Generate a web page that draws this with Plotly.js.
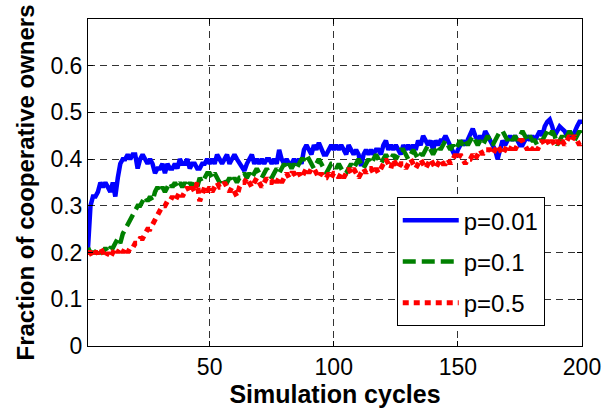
<!DOCTYPE html>
<html>
<head>
<meta charset="utf-8">
<script src="https://cdn.plot.ly/plotly-3.0.1.min.js"></script>
<style>html,body{margin:0;padding:0;background:#fff;}#chart{width:606px;height:411px;}</style>
</head>
<body>
<div id="chart"></div>
<script>
// Simulation cycles 1..200
const cycles = Array.from({length: 200}, (_, i) => i + 1);

const seriesNames = ["p=0.01", "p=0.1", "p=0.5"];

const p001 = [
0.21,0.30,0.32,0.32,0.33,0.35,0.34,0.35,0.34,0.33,
0.35,0.32,0.36,0.39,0.40,0.40,0.41,0.40,0.41,0.41,
0.38,0.40,0.41,0.40,0.39,0.40,0.39,0.37,0.38,0.38,
0.39,0.37,0.39,0.38,0.38,0.39,0.38,0.40,0.39,0.39,
0.40,0.38,0.39,0.39,0.38,0.38,0.39,0.39,0.40,0.39,
0.40,0.39,0.41,0.40,0.39,0.40,0.41,0.39,0.40,0.41,
0.40,0.39,0.38,0.375,0.39,0.40,0.41,0.39,0.40,0.39,
0.40,0.39,0.40,0.40,0.39,0.40,0.39,0.42,0.40,0.39,
0.40,0.39,0.39,0.40,0.39,0.40,0.39,0.42,0.43,0.42,
0.41,0.43,0.42,0.435,0.42,0.41,0.41,0.42,0.43,0.42,
0.43,0.42,0.43,0.42,0.41,0.43,0.42,0.41,0.42,0.41,
0.385,0.41,0.42,0.41,0.42,0.41,0.42,0.42,0.41,0.43,
0.44,0.42,0.43,0.42,0.43,0.42,0.41,0.43,0.42,0.43,
0.42,0.43,0.42,0.44,0.43,0.45,0.44,0.43,0.44,0.42,
0.44,0.43,0.44,0.44,0.45,0.44,0.43,0.42,0.405,0.42,
0.43,0.44,0.43,0.44,0.45,0.465,0.45,0.44,0.45,0.44,
0.46,0.45,0.44,0.43,0.42,0.40,0.42,0.44,0.43,0.44,
0.45,0.44,0.45,0.44,0.43,0.43,0.44,0.45,0.44,0.45,
0.44,0.45,0.46,0.45,0.47,0.48,0.485,0.47,0.45,0.46,
0.47,0.465,0.46,0.45,0.46,0.445,0.46,0.47,0.48,0.48
];

const p01 = [
0.21,0.20,0.20,0.20,0.21,0.20,0.20,0.21,0.20,0.21,
0.21,0.22,0.23,0.22,0.24,0.25,0.26,0.27,0.28,0.29,
0.30,0.30,0.31,0.32,0.31,0.32,0.31,0.33,0.34,0.33,
0.34,0.33,0.34,0.35,0.34,0.35,0.34,0.35,0.34,0.35,
0.34,0.35,0.34,0.35,0.34,0.36,0.35,0.36,0.37,0.37,
0.36,0.37,0.36,0.35,0.36,0.35,0.35,0.36,0.35,0.36,
0.35,0.36,0.36,0.37,0.36,0.37,0.36,0.37,0.38,0.37,
0.36,0.37,0.38,0.37,0.36,0.37,0.38,0.37,0.38,0.39,
0.38,0.39,0.38,0.39,0.38,0.39,0.40,0.40,0.41,0.40,
0.39,0.38,0.39,0.40,0.39,0.38,0.37,0.38,0.39,0.39,
0.38,0.39,0.38,0.37,0.37,0.38,0.39,0.38,0.39,0.40,
0.39,0.38,0.39,0.40,0.39,0.40,0.41,0.40,0.39,0.40,
0.41,0.40,0.40,0.41,0.40,0.41,0.42,0.42,0.41,0.40,
0.41,0.42,0.41,0.40,0.41,0.41,0.42,0.43,0.42,0.41,
0.42,0.43,0.42,0.43,0.44,0.43,0.42,0.43,0.42,0.43,
0.44,0.43,0.44,0.43,0.44,0.45,0.44,0.43,0.44,0.43,
0.44,0.45,0.44,0.43,0.44,0.45,0.46,0.46,0.45,0.44,
0.45,0.44,0.45,0.44,0.45,0.46,0.45,0.44,0.45,0.44,
0.44,0.43,0.44,0.44,0.45,0.46,0.45,0.46,0.45,0.43,
0.44,0.45,0.44,0.45,0.46,0.45,0.44,0.45,0.46,0.45
];

const p05 = [
0.20,0.20,0.19,0.20,0.20,0.21,0.20,0.19,0.20,0.19,
0.20,0.21,0.20,0.21,0.20,0.21,0.20,0.21,0.21,0.22,
0.22,0.23,0.23,0.24,0.25,0.25,0.26,0.27,0.28,0.29,
0.30,0.30,0.31,0.31,0.32,0.31,0.32,0.33,0.32,0.33,
0.34,0.33,0.34,0.33,0.35,0.31,0.33,0.34,0.33,0.34,
0.33,0.34,0.35,0.34,0.34,0.35,0.34,0.33,0.34,0.33,
0.32,0.34,0.35,0.35,0.36,0.35,0.34,0.35,0.36,0.35,
0.34,0.35,0.36,0.35,0.35,0.36,0.35,0.36,0.35,0.36,
0.37,0.36,0.37,0.37,0.36,0.37,0.36,0.37,0.38,0.37,
0.38,0.38,0.37,0.36,0.37,0.36,0.36,0.37,0.36,0.37,
0.37,0.36,0.37,0.36,0.37,0.38,0.37,0.38,0.37,0.36,
0.37,0.38,0.37,0.38,0.38,0.37,0.38,0.37,0.38,0.39,
0.40,0.39,0.38,0.40,0.39,0.38,0.39,0.39,0.38,0.39,
0.40,0.39,0.38,0.39,0.40,0.39,0.38,0.39,0.40,0.39,
0.38,0.39,0.40,0.39,0.39,0.40,0.39,0.40,0.41,0.40,
0.41,0.40,0.39,0.40,0.40,0.41,0.40,0.41,0.42,0.41,
0.42,0.42,0.42,0.41,0.42,0.43,0.42,0.41,0.42,0.43,
0.42,0.43,0.42,0.43,0.44,0.44,0.43,0.42,0.43,0.42,
0.43,0.42,0.43,0.44,0.43,0.44,0.43,0.44,0.43,0.44,
0.43,0.44,0.43,0.44,0.45,0.44,0.45,0.44,0.43,0.44
];

const xTickVals = [50, 100, 150, 200];
const xTickText = ["50", "100", "150", "200"];
const yTickVals = [0, 0.1, 0.2, 0.3, 0.4, 0.5, 0.6];
const yTickText = ["0", "0.1", "0.2", "0.3", "0.4", "0.5", "0.6"];

const FONT = "Arial, 'Liberation Sans', sans-serif";

const traces = [
  {x: cycles, y: p001, name: seriesNames[0], legendgroup: "a", type: "scatter", mode: "lines",
   line: {color: "#0000FF", width: 4.5}},
  {x: cycles, y: p01, name: seriesNames[1], legendgroup: "b", type: "scatter", mode: "lines",
   line: {color: "#008000", width: 4.5, dash: "13px,6px"}},
  {x: cycles, y: p05, name: seriesNames[2], legendgroup: "c", type: "scatter", mode: "lines",
   line: {color: "#FF0000", width: 5, dash: "6px,5px"}}
];

const axisCommon = {
  showline: true, linecolor: "#000", linewidth: 1, mirror: "ticks",
  ticks: "inside", ticklen: 5, tickcolor: "#000", tickwidth: 1,
  showgrid: true, gridcolor: "#333", gridwidth: 1, griddash: "7px,5px",
  zeroline: false, tickfont: {family: FONT, size: 23, color: "#000"}
};

const layout = {
  width: 606, height: 411,
  margin: {l: 88, r: 24, t: 19, b: 65},
  paper_bgcolor: "#fff", plot_bgcolor: "#fff",
  showlegend: true,
  legend: {
    x: 0.625, y: 0.455, xanchor: "left", yanchor: "top",
    bgcolor: "#fff", bordercolor: "#000", borderwidth: 1,
    font: {family: FONT, size: 24, color: "#000"},
    tracegroupgap: 7, traceorder: "grouped", itemwidth: 56
  },
  xaxis: Object.assign({}, axisCommon, {
    range: [1, 200], tickmode: "array", tickvals: xTickVals, ticktext: xTickText,
    title: {text: "Simulation cycles", font: {family: FONT, size: 25, color: "#000", weight: "bold"}, standoff: 4}
  }),
  yaxis: Object.assign({}, axisCommon, {
    range: [0, 0.7], tickmode: "array", tickvals: yTickVals, ticktext: yTickText,
    title: {text: "Fraction of cooperative owners", font: {family: FONT, size: 24, color: "#000", weight: "bold"}, standoff: 9}
  })
};

Plotly.newPlot("chart", traces, layout, {displayModeBar: false, staticPlot: true});
</script>
</body>
</html>
